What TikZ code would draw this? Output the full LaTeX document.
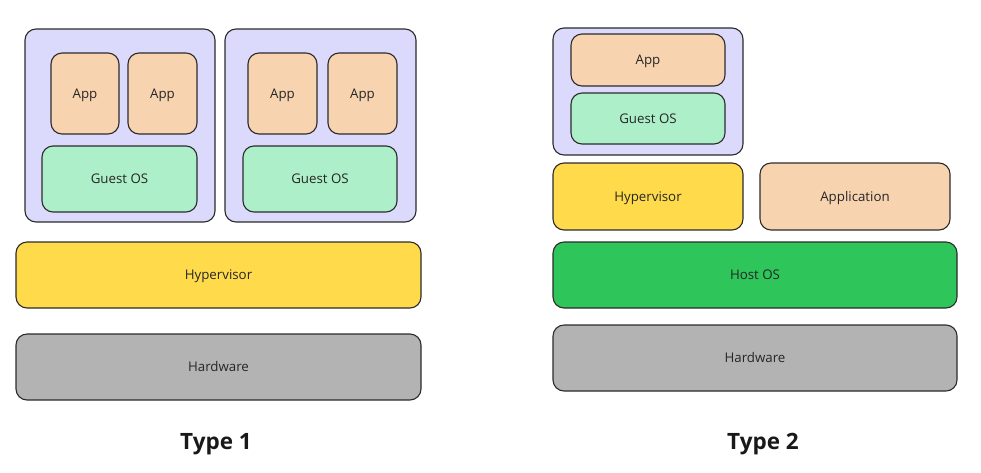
\documentclass[tikz,border=0pt]{standalone}
\usepackage{fontspec}
\setmainfont{Open Sans}
\definecolor{vmc}{HTML}{DCDAFC}
\definecolor{appc}{HTML}{F7D3AF}
\definecolor{osc}{HTML}{ADEFC8}
\definecolor{hypc}{HTML}{FFDA4B}
\definecolor{hostc}{HTML}{2EC55A}
\definecolor{hwc}{HTML}{B3B3B3}
\definecolor{edgec}{HTML}{2B2B2B}
\begin{document}
\begin{tikzpicture}[x=1pt,y=-1pt,
  box/.style={draw=edgec,line width=1.1pt,rounded corners=11pt},
  lbl/.style={font=\fontsize{13.3}{15}\selectfont,text=black!85,text height=9.5pt,text depth=0pt,inner ysep=0pt},
  title/.style={font=\fontsize{22.5}{26}\selectfont\bfseries,text=black!90,text height=16pt,text depth=0pt,inner ysep=0pt}]
\useasboundingbox (0,0) rectangle (981,472);
% Type 1
\draw[box,fill=vmc] (25,29) rectangle (215,222);
\draw[box,fill=vmc] (225,29) rectangle (416,222);
\draw[box,fill=appc] (51,53) rectangle (119,134) node[midway,lbl] (a1) {App};
\draw[box,fill=appc] (128,53) rectangle (197,134) node[midway,lbl] (a2) {App};
\draw[box,fill=osc] (42,146) rectangle (197,212) node[midway,lbl] (g1) {Guest OS};
\draw[box,fill=appc] (248,53) rectangle (317,134) node[midway,lbl] (a3) {App};
\draw[box,fill=appc] (328,53) rectangle (397,134) node[midway,lbl] (a4) {App};
\draw[box,fill=osc] (243,146) rectangle (397,212) node[midway,lbl] (g2) {Guest OS};
\draw[box,fill=hypc] (16,242) rectangle (421,308) node[midway,lbl] (h1) {Hypervisor};
\draw[box,fill=hwc] (16,334) rectangle (421,400) node[midway,lbl] (hw1) {Hardware};
\node[title] (t1) at (216,441) {Type 1};
% Type 2
\draw[box,fill=vmc] (553,28) rectangle (743,155);
\draw[box,fill=appc] (571,34) rectangle (725,86) node[midway,lbl] (a5) {App};
\draw[box,fill=osc] (571,93) rectangle (725,144) node[midway,lbl] (g3) {Guest OS};
\draw[box,fill=hypc] (553,163) rectangle (743,230) node[midway,lbl] (h2) {Hypervisor};
\draw[box,fill=appc] (760,163) rectangle (950,230) node[midway,lbl] (ap) {Application};
\draw[box,fill=hostc] (553,242) rectangle (957,308) node[midway,lbl] (ho) {Host OS};
\draw[box,fill=hwc] (553,325) rectangle (957,391) node[midway,lbl] (hw2) {Hardware};
\node[title] (t2) at (763,441) {Type 2};
\end{tikzpicture}
\end{document}
